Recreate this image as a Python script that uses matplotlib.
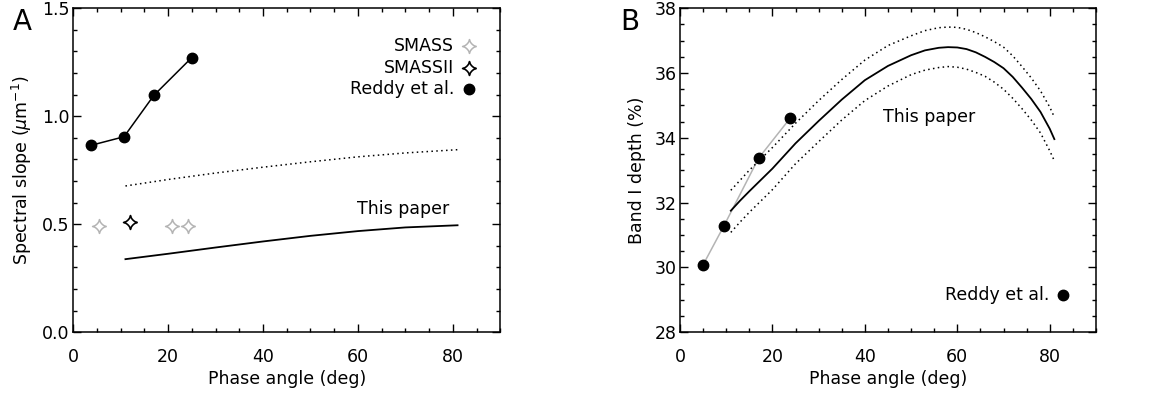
import numpy as np
import matplotlib
matplotlib.use('Agg')
import matplotlib.pyplot as plt
from matplotlib.path import Path
from matplotlib.ticker import MultipleLocator

plt.rcParams['font.family'] = ['DejaVu Sans']
plt.rcParams['font.size'] = 12.5

# Panel A data
reddy_a_x = [3.7, 10.7, 17.0, 25.0]
reddy_a_y = [0.865, 0.905, 1.097, 1.272]
smass_x = [5.5, 20.9, 24.1]
smass_y = [0.492, 0.492, 0.492]
smassii_x = [12.0]
smassii_y = [0.51]
fit_a_x = [11, 20, 30, 40, 50, 60, 70, 81]
fit_a_y = [0.338, 0.363, 0.392, 0.420, 0.446, 0.468, 0.485, 0.495]
fit_a_up = [0.677, 0.707, 0.737, 0.764, 0.789, 0.812, 0.830, 0.845]

# Panel B data
reddy_b_x = [5.0, 9.5, 17.0, 23.8]
reddy_b_y = [30.08, 31.28, 33.37, 34.60]
fit_b_x = [11, 13, 15, 20, 25, 30, 35, 40, 45, 50, 53, 56, 58, 60, 62, 64, 66, 68, 70,
           72, 74, 76, 78, 80, 81]
fit_b_y = [31.75, 32.06, 32.35, 33.05, 33.83, 34.52, 35.18, 35.78, 36.22, 36.55, 36.70,
           36.78, 36.80, 36.79, 36.74, 36.64, 36.50, 36.34, 36.15, 35.88, 35.55, 35.20,
           34.80, 34.28, 33.96]
fit_b_up = [32.38, 32.69, 33.00, 33.70, 34.45, 35.15, 35.80, 36.40, 36.85, 37.15, 37.31,
            37.40, 37.42, 37.41, 37.35, 37.25, 37.12, 36.97, 36.80, 36.53, 36.20, 35.85,
            35.45, 34.95, 34.64]
fit_b_lo = [31.08, 31.40, 31.70, 32.40, 33.20, 33.88, 34.55, 35.15, 35.60, 35.95, 36.09,
            36.17, 36.20, 36.18, 36.12, 36.02, 35.90, 35.72, 35.50, 35.22, 34.90, 34.55,
            34.15, 33.60, 33.29]

# four pointed hollow star marker
t = np.linspace(0, 2 * np.pi, 60)
star = Path(np.column_stack([np.cos(t) ** 3, np.sin(t) ** 3]))

gray = '#b4b4b4'
dots = (0, (1, 2.2))

fig = plt.figure(figsize=(11.5, 3.94), dpi=100)
ax1 = fig.add_axes([0.0637, 0.157, 0.3713, 0.822])
ax2 = fig.add_axes([0.5913, 0.157, 0.3617, 0.822])

for ax in (ax1, ax2):
    ax.tick_params(which='both', direction='in', top=True, right=True, width=1)
    ax.tick_params(which='major', length=5.5)
    ax.tick_params(which='minor', length=2.8)
    ax.tick_params(axis='x', which='major', pad=11.5)
    ax.tick_params(axis='y', which='major', pad=2.5)
    ax.set_xlim(0, 90)
    ax.xaxis.set_major_locator(MultipleLocator(20))
    ax.xaxis.set_minor_locator(MultipleLocator(5))
    ax.set_xlabel('Phase angle (deg)', labelpad=3)
    for s in ax.spines.values():
        s.set_linewidth(1.1)

# Panel A
ax1.set_ylim(0, 1.5)
ax1.yaxis.set_major_locator(MultipleLocator(0.5))
ax1.yaxis.set_minor_locator(MultipleLocator(0.1))
ax1.set_yticks([0, 0.5, 1.0, 1.5], ['0.0', '0.5', '1.0', '1.5'])
ax1.set_ylabel(r'Spectral slope ($\mu$m$^{-1}$)', labelpad=6)

ax1.plot(reddy_a_x, reddy_a_y, '-', color='black', lw=1.1, marker='o', ms=7.5)
ax1.plot(smass_x, smass_y, ls='none', marker=star, ms=10, mfc='none', mec=gray, mew=1.1)
ax1.plot(smassii_x, smassii_y, ls='none', marker=star, ms=10, mfc='none', mec='black', mew=1.2)
ax1.plot(fit_a_x, fit_a_y, '-', color='black', lw=1.3)
ax1.plot(fit_a_x, fit_a_up, color='black', lw=1.1, ls=dots)
ax1.text(69.5, 0.57, 'This paper', ha='center', va='center')

ax1.text(80.3, 1.325, 'SMASS', ha='right', va='center')
ax1.plot([83.4], [1.325], marker=star, ms=10, mfc='none', mec=gray, mew=1.1)
ax1.text(80.3, 1.224, 'SMASSII', ha='right', va='center')
ax1.plot([83.4], [1.224], marker=star, ms=10, mfc='none', mec='black', mew=1.2)
ax1.text(80.3, 1.124, 'Reddy et al.', ha='right', va='center')
ax1.plot([83.4], [1.124], marker='o', ms=7.5, color='black')

# Panel B
ax2.set_ylim(28, 38)
ax2.yaxis.set_major_locator(MultipleLocator(2))
ax2.yaxis.set_minor_locator(MultipleLocator(0.5))
ax2.set_ylabel('Band I depth (%)', labelpad=6)

ax2.plot(reddy_b_x, reddy_b_y, '-', color=gray, lw=1.1)
ax2.plot(reddy_b_x, reddy_b_y, ls='none', marker='o', ms=7.5, color='black')
ax2.plot(fit_b_x, fit_b_y, '-', color='black', lw=1.3)
ax2.plot(fit_b_x, fit_b_up, color='black', lw=1.1, ls=dots)
ax2.plot(fit_b_x, fit_b_lo, color='black', lw=1.1, ls=dots)
ax2.text(54, 34.65, 'This paper', ha='center', va='center')

ax2.text(80.0, 29.15, 'Reddy et al.', ha='right', va='center')
ax2.plot([82.8], [29.15], marker='o', ms=7.5, color='black')

fig.text(0.019, 0.945, 'A', fontsize=20, ha='center', va='center')
fig.text(0.548, 0.945, 'B', fontsize=20, ha='center', va='center')

fig.savefig('out.png', dpi=100)
